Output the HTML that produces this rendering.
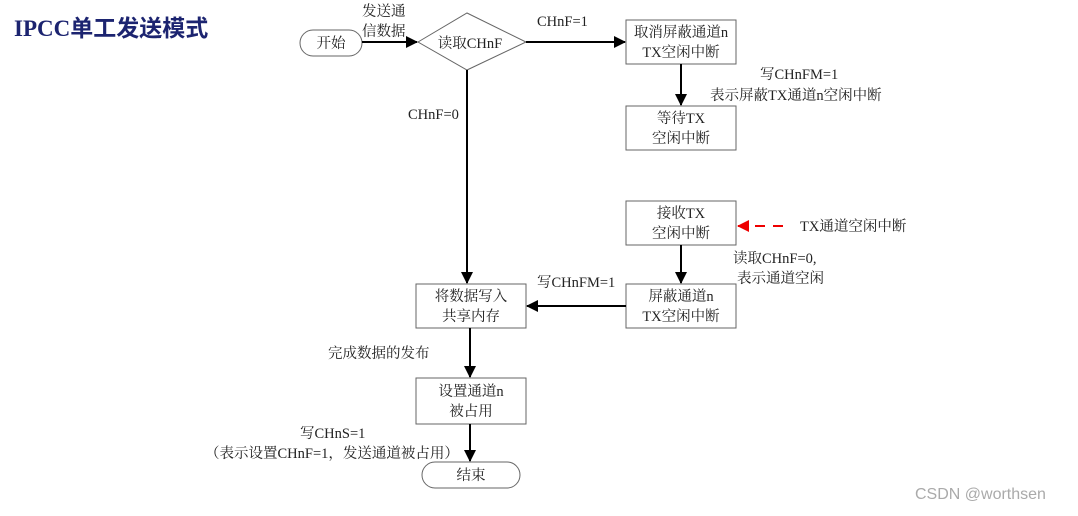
<!DOCTYPE html>
<html><head><meta charset="utf-8"><style>
body{margin:0;background:#fff;}
svg text{font-family:"Liberation Serif","Noto Serif CJK SC",serif;font-size:14.5px;fill:#222;}
</style></head><body>
<svg width="1078" height="511" xmlns="http://www.w3.org/2000/svg">
<defs>
<marker id="a" markerWidth="12" markerHeight="12" refX="11" refY="6" orient="auto" markerUnits="userSpaceOnUse"><path d="M0,0 L12,6 L0,12 z" fill="#000"/></marker>
<marker id="r" markerWidth="12" markerHeight="12" refX="11" refY="6" orient="auto" markerUnits="userSpaceOnUse"><path d="M0,0 L12,6 L0,12 z" fill="#e00"/></marker>
</defs>
<text x="14" y="36" style="font-size:23px;font-weight:bold;fill:#1c2470;font-family:'Liberation Serif','Noto Sans CJK SC',sans-serif">IPCC单工发送模式</text>
<g fill="none" stroke="#666" stroke-width="1">
<rect x="300" y="30" width="62" height="26" rx="13"/>
<polygon points="418,42 467,13 526,42 467,70"/>
<rect x="626" y="20" width="110" height="44"/>
<rect x="626" y="106" width="110" height="44"/>
<rect x="626" y="201" width="110" height="44"/>
<rect x="626" y="284" width="110" height="44"/>
<rect x="416" y="284" width="110" height="44"/>
<rect x="416" y="378" width="110" height="46"/>
<rect x="422" y="462" width="98" height="26" rx="13"/>
</g>
<g stroke="#000" stroke-width="2" fill="none">
<line x1="362" y1="42" x2="417" y2="42" marker-end="url(#a)"/>
<line x1="526" y1="42" x2="625" y2="42" marker-end="url(#a)"/>
<line x1="681" y1="64" x2="681" y2="105" marker-end="url(#a)"/>
<line x1="467" y1="70" x2="467" y2="283" marker-end="url(#a)"/>
<line x1="681" y1="245" x2="681" y2="283" marker-end="url(#a)"/>
<line x1="626" y1="306" x2="527" y2="306" marker-end="url(#a)"/>
<line x1="470" y1="328" x2="470" y2="377" marker-end="url(#a)"/>
<line x1="470" y1="424" x2="470" y2="461" marker-end="url(#a)"/>
<line x1="783" y1="226" x2="738" y2="226" stroke="#e00" stroke-dasharray="10,8" marker-end="url(#r)"/>
</g>
<g text-anchor="middle">
<text x="331" y="48">开始</text>
<text x="470" y="48">读取CHnF</text>
<text x="681" y="37">取消屏蔽通道n</text>
<text x="681" y="57">TX空闲中断</text>
<text x="681" y="123">等待TX</text>
<text x="681" y="143">空闲中断</text>
<text x="681" y="218">接收TX</text>
<text x="681" y="238">空闲中断</text>
<text x="681" y="301">屏蔽通道n</text>
<text x="681" y="321">TX空闲中断</text>
<text x="471" y="301">将数据写入</text>
<text x="471" y="321">共享内存</text>
<text x="471" y="396">设置通道n</text>
<text x="471" y="416">被占用</text>
<text x="471" y="480">结束</text>
</g>
<text x="362" y="16">发送通</text>
<text x="362" y="36">信数据</text>
<text x="537" y="26">CHnF=1</text>
<text x="408" y="119">CHnF=0</text>
<text x="760" y="79">写CHnFM=1</text>
<text x="710" y="100">表示屏蔽TX通道n空闲中断</text>
<text x="800" y="231">TX通道空闲中断</text>
<text x="733" y="263">读取CHnF=0,</text>
<text x="737" y="283">表示通道空闲</text>
<text x="537" y="287">写CHnFM=1</text>
<text x="328" y="358">完成数据的发布</text>
<text x="300" y="438">写CHnS=1</text>
<text x="205" y="458">（表示设置CHnF=1，发送通道被占用）</text>
<text x="915" y="499" style="fill:#aaa;font-family:'Liberation Sans',sans-serif;font-size:16px">CSDN @worthsen</text>
</svg>
</body></html>
